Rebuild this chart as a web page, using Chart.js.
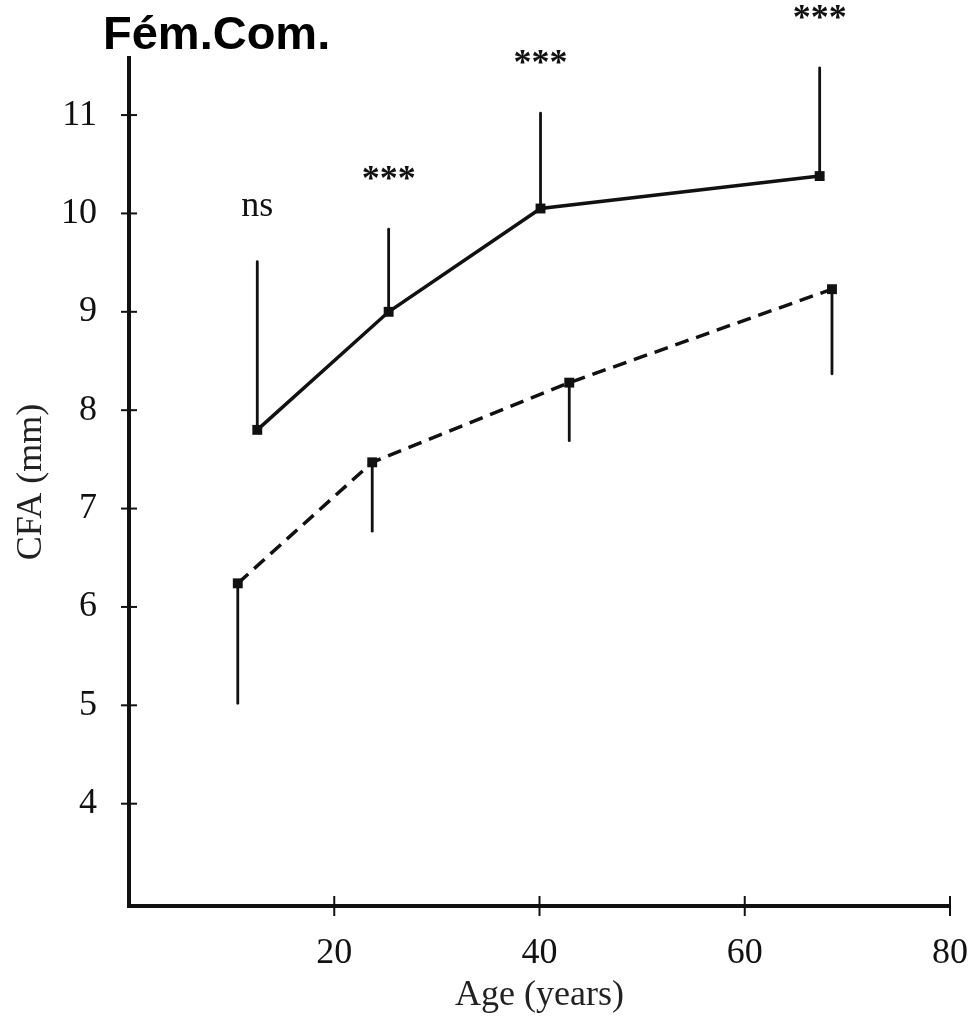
<!DOCTYPE html>
<html>
<head>
<meta charset="utf-8">
<script src="https://cdn.jsdelivr.net/npm/chart.js@4/dist/chart.umd.min.js"></script>
<style>
	html, body { margin: 0; padding: 0; background: #fff; overflow: hidden; }
	canvas { display: block; }
</style>
</head>
<body>
<canvas id="cfaChart" width="969" height="1017"></canvas>
<script>
// values
var ageSolid = [12.5, 25.3, 40.1, 67.3];
var cfaSolid = [7.80, 9.00, 10.05, 10.38];
var errSolid = [9.51, 9.84, 11.02, 11.48]; // upper end of the bar
var sigSolid = ["ns", "***", "***", "***"];

var ageDashed = [10.6, 23.7, 42.9, 68.5];
var cfaDashed = [6.24, 7.47, 8.28, 9.23];
var errDashed = [5.02, 6.77, 7.69, 8.37]; // lower end of the bar

var xTicks = [20, 40, 60, 80];
var yTicks = [4, 5, 6, 7, 8, 9, 10, 11];

var serif = "'Liberation Serif', 'Times New Roman', serif";
var ink = "#111";

function toPoints(xs, ys) {
	var arr = [];
	for (var i = 0; i < xs.length; i++) {
		arr.push({ x: xs[i], y: ys[i] });
	}
	return arr;
}

// error bars, crossing ticks, title and significance marks
var extras = {
	id: "extras",
	afterDatasetsDraw: function(chart) {
		var ctx = chart.ctx;
		var xs = chart.scales.x;
		var ys = chart.scales.y;
		ctx.save();
		ctx.strokeStyle = ink;
		ctx.lineWidth = 2.8;
		ctx.lineCap = "round";
		for (var i = 0; i < ageSolid.length; i++) {
			var px = xs.getPixelForValue(ageSolid[i]);
			ctx.beginPath();
			ctx.moveTo(px, ys.getPixelForValue(cfaSolid[i]));
			ctx.lineTo(px, ys.getPixelForValue(errSolid[i]));
			ctx.stroke();
		}
		for (var j = 0; j < ageDashed.length; j++) {
			var qx = xs.getPixelForValue(ageDashed[j]);
			ctx.beginPath();
			ctx.moveTo(qx, ys.getPixelForValue(cfaDashed[j]));
			ctx.lineTo(qx, ys.getPixelForValue(errDashed[j]));
			ctx.stroke();
		}

		// ticks that cross the axis lines
		ctx.lineWidth = 2;
		ctx.lineCap = "butt";
		var axisX = xs.left;
		yTicks.forEach(function(v) {
			var py = ys.getPixelForValue(v);
			ctx.beginPath();
			ctx.moveTo(axisX - 8, py);
			ctx.lineTo(axisX + 8, py);
			ctx.stroke();
		});
		var axisY = ys.bottom;
		xTicks.forEach(function(v) {
			var px2 = xs.getPixelForValue(v);
			ctx.beginPath();
			ctx.moveTo(px2, axisY - 10);
			ctx.lineTo(px2, axisY + 10);
			ctx.stroke();
		});

		// significance labels above the upper bars
		ctx.fillStyle = ink;
		ctx.textAlign = "center";
		ctx.textBaseline = "alphabetic";
		for (var k = 0; k < sigSolid.length; k++) {
			var sx = xs.getPixelForValue(ageSolid[k]);
			var sy = ys.getPixelForValue(errSolid[k]) - 54;
			if (sigSolid[k] == "ns") {
				ctx.font = "36px " + serif;
				ctx.fillText(sigSolid[k], sx, sy + 8);
			} else {
				ctx.font = "bold 36px " + serif;
				ctx.fillText(sigSolid[k], sx, sy + 15);
			}
		}

		ctx.font = "bold 47px 'Liberation Sans', Arial, sans-serif";
		ctx.textAlign = "left";
		ctx.fillStyle = "#000";
		ctx.fillText("Fém.Com.", 103, 49);
		ctx.restore();
	}
};

var ctx = document.getElementById("cfaChart").getContext("2d");
var cfaChart = new Chart(ctx, {
	type: "line",
	data: {
		datasets: [
			{
				label: "solid",
				data: toPoints(ageSolid, cfaSolid),
				borderColor: ink,
				borderWidth: 3.5,
				pointStyle: "rect",
				pointRadius: 7,
				pointBackgroundColor: ink,
				pointBorderWidth: 0,
				tension: 0,
			},
			{
				label: "dashed",
				data: toPoints(ageDashed, cfaDashed),
				borderColor: ink,
				borderWidth: 3.5,
				borderDash: [14, 8],
				pointStyle: "rect",
				pointRadius: 7,
				pointBackgroundColor: ink,
				pointBorderWidth: 0,
				tension: 0,
			},
		],
	},
	options: {
		responsive: false,
		animation: false,
		layout: { padding: { left: 0, right: 19, top: 58, bottom: 0 } },
		plugins: {
			legend: { display: false },
			tooltip: { enabled: false },
		},
		scales: {
			x: {
				type: "linear",
				min: 0,
				max: 80,
				afterBuildTicks: function(scale) {
					scale.ticks = xTicks.map(function(v) { return { value: v }; });
				},
				afterFit: function(scale) {
					scale.height = 111;
					scale.paddingLeft = 0;
					scale.paddingRight = 0;
				},
				grid: { display: false, drawTicks: false },
				border: { display: true, color: ink, width: 4 },
				ticks: {
					padding: 26,
					color: ink,
					font: { family: serif, size: 36 },
				},
				title: {
					display: true,
					text: "Age (years)",
					color: "#222",
					font: { family: serif, size: 36 },
					padding: { top: 0, bottom: 0 },
				},
			},
			y: {
				type: "linear",
				min: 2.96,
				max: 11.58,
				afterBuildTicks: function(scale) {
					scale.ticks = yTicks.map(function(v) { return { value: v }; });
				},
				afterFit: function(scale) {
					scale.width = 129;
					scale.paddingTop = 0;
					scale.paddingBottom = 0;
				},
				grid: { display: false, drawTicks: false },
				border: { display: true, color: ink, width: 4 },
				ticks: {
					padding: 32,
					color: ink,
					font: { family: serif, size: 36 },
				},
				title: {
					display: true,
					text: "CFA (mm)",
					color: "#222",
					font: { family: serif, size: 36 },
					padding: { top: 10, bottom: 0 },
				},
			},
		},
	},
	plugins: [extras],
});
</script>
</body>
</html>
